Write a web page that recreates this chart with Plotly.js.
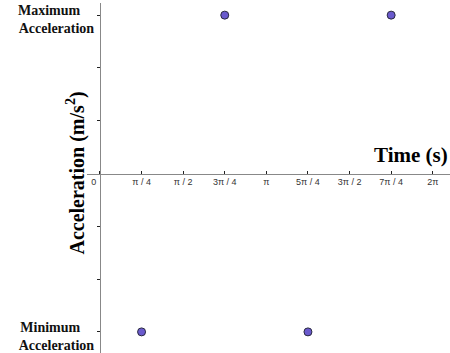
<!DOCTYPE html>
<html>
<head>
<meta charset="utf-8">
<script src="https://cdn.plot.ly/plotly-3.0.1.min.js"></script>
<style>html,body{margin:0;padding:0;background:#fff;}#chart{width:450px;height:353px;}</style>
</head>
<body>
<div id="chart"></div>
<script>
// Data
var PI = Math.PI;
var pointTimes = [PI/4, 3*PI/4, 5*PI/4, 7*PI/4];
var pointAccel = [-3, 3, -3, 3];
var xTickVals = [0, PI/4, PI/2, 3*PI/4, PI, 5*PI/4, 3*PI/2, 7*PI/4, 2*PI];
var xTickText = ["0\u00a0\u00a0\u00a0\u00a0\u00a0", "\u03c0 / 4", "\u03c0 / 2", "3\u03c0 / 4", "\u03c0", "5\u03c0 / 4", "3\u03c0 / 2", "7\u03c0 / 4", "2\u03c0"];
var yTickVals = [-3, -2, -1, 1, 2, 3];
var yTickText = ["Minimum\u00a0\u00a0\u00a0\u00a0<br>Acceleration", "", "", "", "", "Maximum\u00a0\u00a0\u00a0\u00a0<br>Acceleration"];

var xRange = [-0.245, 6.609];
var yRange = [-3.40, 3.23];

var trace = {
  x: pointTimes, y: pointAccel, type: 'scatter', mode: 'markers',
  marker: {size: 8, color: '#6a5acd', line: {color: '#2a2a40', width: 1}},
  cliponaxis: false, hoverinfo: 'none'
};

var layout = {
  width: 450, height: 353,
  margin: {l: 87, r: 0, t: 3, b: 0, pad: 0},
  paper_bgcolor: '#fff', plot_bgcolor: '#fff',
  showlegend: false,
  xaxis: {
    range: xRange, anchor: 'free',
    position: (0 - yRange[0]) / (yRange[1] - yRange[0]),
    showline: true, linecolor: '#888', linewidth: 1,
    showgrid: false, zeroline: false,
    tickmode: 'array', tickvals: xTickVals, ticktext: xTickText,
    ticks: 'inside', ticklen: 3, tickcolor: '#222', tickwidth: 1,
    ticklabeloverflow: 'allow',
    tickfont: {family: 'Liberation Sans, Arial, sans-serif', size: 9, color: '#333'}
  },
  yaxis: {
    range: yRange, anchor: 'free',
    position: (0 - xRange[0]) / (xRange[1] - xRange[0]),
    showline: true, linecolor: '#888', linewidth: 1,
    showgrid: false, zeroline: false,
    tickmode: 'array', tickvals: yTickVals, ticktext: yTickText,
    ticks: 'outside', ticklen: 3, tickcolor: '#222', tickwidth: 1,
    ticklabeloverflow: 'allow', ticklabelshift: 4,
    tickfont: {family: 'Liberation Serif, Times New Roman, serif', size: 14, color: '#111', weight: 'bold'}
  },
  annotations: [
    {text: '<b>Time (s)</b>', xref: 'paper', x: 1, xanchor: 'right', xshift: 0,
     yref: 'y', y: 0, yanchor: 'middle', yshift: 19, showarrow: false,
     font: {family: 'Liberation Serif, Times New Roman, serif', size: 21, color: '#000'}},
    {text: '<b>Acceleration (m/s<sup>2</sup>)</b>', xref: 'paper', x: (76 - 87) / 363, xanchor: 'center',
     yref: 'y', y: 0, yanchor: 'middle', textangle: -90, showarrow: false,
     font: {family: 'Liberation Serif, Times New Roman, serif', size: 20, color: '#000'}}
  ]
};

Plotly.newPlot('chart', [trace], layout, {displayModeBar: false, staticPlot: true});
</script>
</body>
</html>
